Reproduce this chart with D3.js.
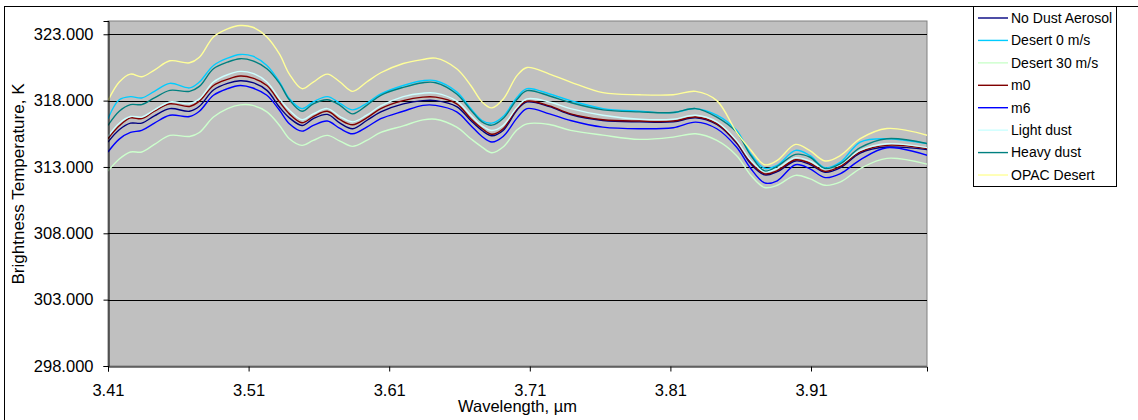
<!DOCTYPE html>
<html>
<head>
<meta charset="utf-8">
<script src="https://cdn.jsdelivr.net/npm/d3@7"></script>
<style>
  html, body { margin: 0; padding: 0; background: #fff; }
  svg { display: block; font-family: "Liberation Sans", Arial, sans-serif; }
</style>
</head>
<body>
<svg id="chart" width="1138" height="420"></svg>
<script>
const wavelengths = [3.410, 3.418, 3.426, 3.434, 3.443, 3.454, 3.468, 3.475, 3.485, 3.495,
  3.504, 3.513, 3.523, 3.532, 3.539, 3.548, 3.556, 3.566, 3.575, 3.584,
  3.594, 3.604, 3.620, 3.634, 3.643, 3.658, 3.668, 3.676, 3.683, 3.691,
  3.701, 3.708, 3.724, 3.739, 3.762, 3.788, 3.812, 3.828, 3.843, 3.857,
  3.867, 3.877, 3.886, 3.899, 3.909, 3.920, 3.931, 3.945, 3.964, 3.993];

const noDustAerosol = [314.88, 315.8, 316.3, 316.3, 316.85, 317.4, 317.2, 317.58, 318.8, 319.3,
  319.5, 319.35, 318.77, 317.5, 316.7, 316.13, 316.64, 316.96, 316.3, 315.88,
  316.5, 317.15, 317.75, 318.0, 318.0, 317.55, 316.5, 315.75, 315.35, 315.75,
  317.3, 317.9, 317.55, 316.95, 316.5, 316.4, 316.4, 316.7, 316.2, 314.8,
  313.25, 312.4, 312.65, 313.45, 313.2, 312.6, 312.95, 314.05, 314.5, 314.3];

const desert0 = [316.64, 318.06, 318.3, 318.2, 318.7, 319.3, 318.96, 319.4, 320.65, 321.2,
  321.48, 321.35, 320.65, 319.4, 318.15, 317.4, 317.9, 318.3, 317.8, 317.3,
  317.8, 318.5, 319.14, 319.5, 319.5, 318.66, 317.4, 316.5, 316.3, 316.8,
  318.26, 318.9, 318.5, 318.0, 317.4, 317.2, 317.1, 317.4, 316.9, 315.76,
  314.0, 312.9, 313.12, 314.25, 313.87, 312.94, 313.36, 314.88, 315.13, 314.75];

const desert30 = [312.7, 313.6, 314.13, 314.13, 314.7, 315.38, 315.3, 315.6, 316.76, 317.4,
  317.68, 317.64, 317.15, 316.13, 315.13, 314.63, 315.0, 315.38, 314.95, 314.55,
  315.0, 315.6, 316.1, 316.55, 316.6, 316.0, 315.13, 314.5, 314.07, 314.5,
  315.8, 316.25, 316.2, 315.76, 315.4, 315.08, 315.25, 315.5, 315.0, 313.87,
  312.4, 311.45, 311.62, 312.37, 312.12, 311.62, 311.87, 312.88, 313.65, 313.2];

const m0 = [315.13, 316.1, 316.7, 316.64, 317.2, 317.76, 317.56, 317.96, 319.14, 319.6,
  319.85, 319.7, 319.14, 317.9, 317.0, 316.33, 316.8, 317.2, 316.56, 316.18,
  316.7, 317.4, 318.0, 318.26, 318.26, 317.76, 316.64, 315.9, 315.46, 315.88,
  317.4, 317.96, 317.6, 317.0, 316.56, 316.46, 316.46, 316.76, 316.26, 314.88,
  313.36, 312.48, 312.73, 313.54, 313.3, 312.67, 313.05, 314.13, 314.63, 314.38];

const m6 = [314.13, 315.1, 315.6, 315.76, 316.3, 316.9, 316.8, 317.2, 318.4, 318.9,
  319.14, 318.95, 318.4, 317.27, 316.26, 315.7, 316.13, 316.46, 315.9, 315.5,
  316.0, 316.64, 317.2, 317.64, 317.64, 317.15, 316.13, 315.3, 314.88, 315.3,
  316.7, 317.4, 317.0, 316.5, 316.0, 315.88, 315.96, 316.38, 315.88, 314.5,
  312.9, 311.8, 311.96, 313.17, 312.88, 312.2, 312.5, 313.54, 314.45, 313.87];

const lightDust = [315.3, 316.3, 316.8, 316.76, 317.3, 317.9, 317.76, 318.13, 319.4, 319.95,
  320.2, 320.05, 319.4, 318.13, 317.27, 316.56, 317.0, 317.4, 316.8, 316.4,
  316.9, 317.6, 318.3, 318.56, 318.56, 317.96, 316.9, 316.1, 315.75, 316.13,
  317.5, 318.13, 317.9, 317.4, 316.9, 316.6, 316.6, 316.9, 316.4, 315.0,
  313.5, 312.65, 312.9, 313.7, 313.45, 312.85, 313.2, 314.25, 314.75, 314.45];

const heavyDust = [316.13, 317.2, 317.7, 317.7, 318.2, 318.77, 318.7, 319.07, 320.4, 320.9,
  321.16, 321.0, 320.4, 319.3, 318.06, 317.2, 317.76, 318.06, 317.64, 317.0,
  317.64, 318.4, 319.0, 319.35, 319.35, 318.5, 317.3, 316.4, 316.15, 316.65,
  318.1, 318.75, 318.35, 317.85, 317.3, 317.15, 317.1, 317.4, 316.76, 315.63,
  313.9, 312.7, 313.05, 313.95, 313.75, 312.88, 313.25, 314.45, 315.13, 314.75];

const opacDesert = [318.0, 319.4, 320.0, 319.8, 320.3, 321.0, 320.85, 321.27, 322.8, 323.4,
  323.66, 323.53, 322.8, 321.5, 320.0, 318.9, 319.4, 320.0, 319.4, 318.7,
  319.4, 320.1, 320.8, 321.1, 321.2, 320.4, 319.14, 317.9, 317.45, 318.1,
  319.9, 320.5, 320.0, 319.4, 318.6, 318.44, 318.44, 318.7, 318.0, 315.63,
  314.3, 313.17, 313.5, 314.7, 314.25, 313.45, 313.87, 315.13, 315.9, 315.38];

const seriesNames = ["No Dust Aerosol", "Desert 0 m/s", "Desert 30 m/s", "m0", "m6",
  "Light dust", "Heavy dust", "OPAC Desert"];
const seriesValues = [noDustAerosol, desert0, desert30, m0, m6, lightDust, heavyDust, opacDesert];
const seriesColors = ["#000080", "#00CCFF", "#CCFFCC", "#800000", "#0000FF",
  "#CCFFFF", "#008080", "#FFFF99"];

const xTicks = [3.41, 3.51, 3.61, 3.71, 3.81, 3.91];
const yTicks = [298, 303, 308, 313, 318, 323];

const svg = d3.select("#chart");
const plot = { left: 108, right: 927, top: 21, bottom: 366 };

const x = d3.scaleLinear().domain([3.41, 3.9925]).range([plot.left, plot.right]);
const y = d3.scaleLinear().domain([298, 324]).range([plot.bottom, plot.top]);

// outer chart border
svg.append("rect").attr("x", 4.5).attr("y", 6.5).attr("width", 1200).attr("height", 500)
  .attr("fill", "#fff").attr("stroke", "#000").attr("stroke-width", 1);

// plot background
svg.append("rect").attr("x", plot.left).attr("y", plot.top)
  .attr("width", plot.right - plot.left).attr("height", plot.bottom - plot.top)
  .attr("fill", "#C0C0C0").attr("stroke", "#808080").attr("stroke-width", 1);

// gridlines
svg.append("g").selectAll("line").data(yTicks.filter(d => d !== 298)).join("line")
  .attr("x1", plot.left).attr("x2", plot.right)
  .attr("y1", d => Math.round(y(d)) + 0.5).attr("y2", d => Math.round(y(d)) + 0.5)
  .attr("stroke", "#000").attr("stroke-width", 1);

// lines
const line = d3.line()
  .x((d, i) => x(wavelengths[i]))
  .y(d => y(d))
  .curve(d3.curveCatmullRom.alpha(0.5));

svg.append("clipPath").attr("id", "plotclip").append("rect")
  .attr("x", plot.left).attr("y", plot.top)
  .attr("width", plot.right - plot.left).attr("height", plot.bottom - plot.top);

svg.append("g").attr("clip-path", "url(#plotclip)")
  .selectAll("path").data(seriesValues).join("path")
  .attr("d", d => line(d))
  .attr("fill", "none")
  .attr("stroke", (d, i) => seriesColors[i])
  .attr("stroke-width", 1.4);

// axes
const yAxis = d3.axisLeft(y).tickValues(yTicks).tickFormat(d3.format(".3f"))
  .tickSize(5).tickPadding(10);
const gy = svg.append("g").attr("transform", `translate(${plot.left + 0.5},0)`).call(yAxis);
gy.select(".domain").attr("stroke", "#000");
gy.selectAll(".tick line").attr("stroke", "#000");
gy.selectAll(".tick text").attr("font-size", 16.5).attr("fill", "#000")
  .attr("font-family", "'Liberation Sans', Arial, sans-serif");

const xAxis = d3.axisBottom(x).tickValues(xTicks).tickFormat(d3.format(".2f"))
  .tickSize(5).tickPadding(13);
const gx = svg.append("g").attr("transform", `translate(0,${plot.bottom + 0.5})`).call(xAxis);
gx.select(".domain").attr("stroke", "#000");
gx.selectAll(".tick line").attr("stroke", "#000");
gx.selectAll(".tick text").attr("font-size", 16.5).attr("fill", "#000")
  .attr("font-family", "'Liberation Sans', Arial, sans-serif");

// axis titles
svg.append("text").attr("x", (plot.left + plot.right) / 2).attr("y", 412)
  .attr("text-anchor", "middle").attr("font-size", 16.5).text("Wavelength, µm");
svg.append("text").attr("transform", "translate(24,184) rotate(-90)")
  .attr("text-anchor", "middle").attr("font-size", 17).text("Brightness Temperature, K");

// legend
const lg = svg.append("g");
lg.append("rect").attr("x", 973.5).attr("y", 6.5).attr("width", 143).attr("height", 180)
  .attr("fill", "#fff").attr("stroke", "#000").attr("stroke-width", 1);
const items = lg.selectAll("g.item").data(seriesNames).join("g").attr("class", "item")
  .attr("transform", (d, i) => `translate(0,${18 + i * 22.43})`);
items.append("line").attr("x1", 978).attr("x2", 1008).attr("y1", 0).attr("y2", 0)
  .attr("stroke", (d, i) => seriesColors[i]).attr("stroke-width", 1.4);
items.append("text").attr("x", 1011).attr("y", 0).attr("dy", "0.35em")
  .attr("font-size", 14).text(d => d);
</script>
</body>
</html>
